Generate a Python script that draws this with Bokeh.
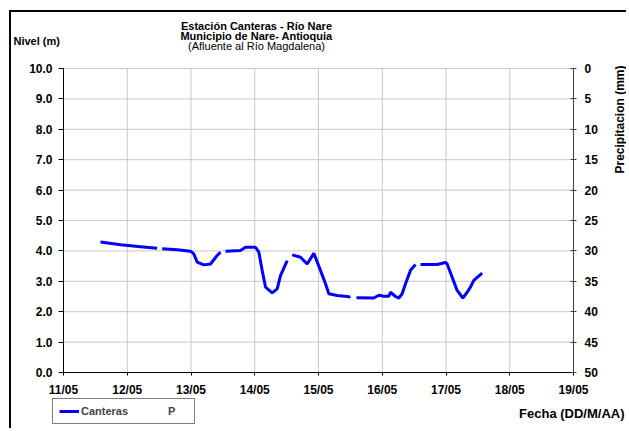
import math
from bokeh.plotting import figure
from bokeh.models import (Range1d, LinearAxis, FixedTicker, Label, Legend,
                          LegendItem, NumeralTickFormatter, ColumnDataSource)
from bokeh.embed import file_html
from bokeh.resources import INLINE

NaN = float("nan")

# Fecha as day of May (decimal days); NaN marks gaps in the record
fecha = [11.580, 11.894, 12.208, 12.469, NaN,
         12.548, 12.783, 12.992, 13.044, 13.097, 13.201, 13.306, 13.410, 13.463, NaN,
         13.541, 13.776, 13.855, 14.012, 14.064, 14.116, 14.169, 14.273, 14.352, 14.404, 14.509, NaN,
         14.587, 14.718, 14.822, 14.927, 15.031, 15.110, 15.162, 15.293, 15.450, 15.502, NaN,
         15.596, 15.868, 15.946, 16.025, 16.103, 16.129, 16.208, 16.260, 16.312, 16.365, 16.443, 16.522, NaN,
         16.600, 16.861, 16.992, 17.018, 17.097, 17.175, 17.264, 17.332, 17.384, 17.436, 17.567]
nivel = [4.29, 4.20, 4.14, 4.09, NaN,
         4.07, 4.04, 3.99, 3.90, 3.63, 3.54, 3.57, 3.85, 3.96, NaN,
         3.99, 4.01, 4.12, 4.12, 3.96, 3.36, 2.81, 2.62, 2.75, 3.19, 3.68, NaN,
         3.87, 3.79, 3.57, 3.92, 3.36, 2.92, 2.59, 2.53, 2.50, 2.48, NaN,
         2.46, 2.45, 2.54, 2.51, 2.51, 2.64, 2.50, 2.45, 2.59, 2.92, 3.36, 3.55, NaN,
         3.55, 3.55, 3.62, 3.57, 3.13, 2.70, 2.45, 2.64, 2.81, 3.03, 3.27]

# Precipitation series (no values recorded in the period)
fecha_p = []
precip = []

x_ticks = [11, 12, 13, 14, 15, 16, 17, 18, 19]
x_tick_labels = ["11/05", "12/05", "13/05", "14/05", "15/05", "16/05", "17/05", "18/05", "19/05"]
nivel_ticks = [0, 1, 2, 3, 4, 5, 6, 7, 8, 9, 10]
precip_ticks = [0, 5, 10, 15, 20, 25, 30, 35, 40, 45, 50]

FONT = "Liberation Sans"

X0, X1 = x_ticks[0], x_ticks[-1]          # plotted date span
Y0, Y1 = nivel_ticks[0], nivel_ticks[-1]  # level axis span
P0, P1 = precip_ticks[0], precip_ticks[-1]
P_PER_LEVEL = (P1 - P0) / (Y1 - Y0)

# the frame fills the canvas; the axes sit at fixed data positions inside it
XLO, XHI = 10.1843, 19.8627
YLO, YHI = -1.908, 11.842

p = figure(width=617, height=418, x_range=Range1d(XLO, XHI), y_range=Range1d(YLO, YHI),
           output_backend="svg", toolbar_location=None, min_border=0,
           min_border_left=0, min_border_right=0, min_border_top=0, min_border_bottom=0)
p.styles = {"margin-left": "9px", "margin-top": "10px",
            "border-left": "2px solid black", "border-top": "2px solid black"}
p.outline_line_color = None
p.background_fill_color = "white"
p.border_fill_color = "white"
p.grid.visible = False

p.extra_y_ranges = {"precip": Range1d(P0 + (Y1 - YLO) * P_PER_LEVEL,
                                      P0 - (YHI - Y1) * P_PER_LEVEL)}

# grid lines over the plotting area, from the tick values
GRID = "#c8c8c8"
p.segment(x0=x_ticks, y0=[Y0] * len(x_ticks), x1=x_ticks, y1=[Y1] * len(x_ticks),
          line_color=GRID, line_width=1)
p.segment(x0=[X0] * len(nivel_ticks), y0=nivel_ticks, x1=[X1] * len(nivel_ticks),
          y1=nivel_ticks, line_color=GRID, line_width=1)

# axes
xa = p.xaxis[0]
xa.ticker = FixedTicker(ticks=x_ticks)
xa.major_label_overrides = {t: l for t, l in zip(x_ticks, x_tick_labels)}
xa.fixed_location = Y0
xa.bounds = (X0, X1)
xa.major_tick_out = 3
xa.major_tick_in = 0
xa.minor_tick_out = 0
xa.minor_tick_in = 0
xa.major_label_standoff = 8
xa.axis_line_color = "black"

ya = p.yaxis[0]
ya.ticker = FixedTicker(ticks=nivel_ticks)
ya.formatter = NumeralTickFormatter(format="0.0")
ya.fixed_location = X0
ya.bounds = (Y0, Y1)
ya.major_tick_out = 5
ya.major_tick_in = 0
ya.minor_tick_out = 0
ya.minor_tick_in = 0
ya.major_label_standoff = 6
ya.axis_line_color = "black"

ra = LinearAxis(y_range_name="precip", ticker=FixedTicker(ticks=precip_ticks))
ra.fixed_location = X1
ra.bounds = (P0, P1)
ra.major_tick_out = 3
ra.major_tick_in = 3
ra.minor_tick_out = 0
ra.minor_tick_in = 0
ra.major_label_standoff = 8
ra.axis_line_color = "#404040"
ra.major_tick_line_color = "#404040"
p.add_layout(ra, "right")

for ax in [xa, ya, ra]:
    ax.major_label_text_font = FONT
    ax.major_label_text_font_style = "bold"
    ax.major_label_text_font_size = "12px"
    ax.major_label_text_color = "black"

# data
line_r = p.line(fecha, nivel, line_color="#0000ff", line_width=3)
src_p = ColumnDataSource(dict(x=fecha_p, y=precip))
sc_r = p.scatter("x", "y", source=src_p, y_range_name="precip", marker="square",
                 size=3, fill_color="#008000", line_color="#008000")

legend = Legend(items=[LegendItem(label="Canteras", renderers=[line_r]),
                       LegendItem(label="P", renderers=[sc_r])],
                orientation="horizontal", location=(41, 6))
legend.border_line_color = "black"
legend.border_line_width = 1
legend.background_fill_color = "white"
legend.background_fill_alpha = 1
legend.label_text_font = FONT
legend.label_text_font_style = "bold"
legend.label_text_font_size = "11px"
legend.padding = 6
legend.spacing = 18
legend.glyph_width = 20
legend.glyph_height = 12
legend.label_height = 12
legend.label_standoff = 2
legend.margin = 0
p.add_layout(legend)

# texts (canvas pixel positions)
def add_text(x, y, txt, bold=True, align="center", angle=0.0, size="11px"):
    p.add_layout(Label(x=x, y=y, x_units="canvas", y_units="canvas", text=txt,
                       text_font=FONT, text_font_style="bold" if bold else "normal",
                       text_font_size=size, text_align=align, angle=angle,
                       text_baseline="middle", text_color="black"))

add_text(243, 11, "Estación Canteras - Río Nare")
add_text(243, 21, "Municipio de Nare- Antioquia")
add_text(243, 31, "(Afluente al Río Magdalena)", bold=False)
add_text(0, 26, "Nivel (m)", align="left")
add_text(606, 105, "Precipitacion (mm)", angle=math.pi / 2, size="12px")
add_text(611, 399, "Fecha (DD/M/AA)", align="right", size="13px")

open("out.html", "w").write(file_html(p, INLINE))
